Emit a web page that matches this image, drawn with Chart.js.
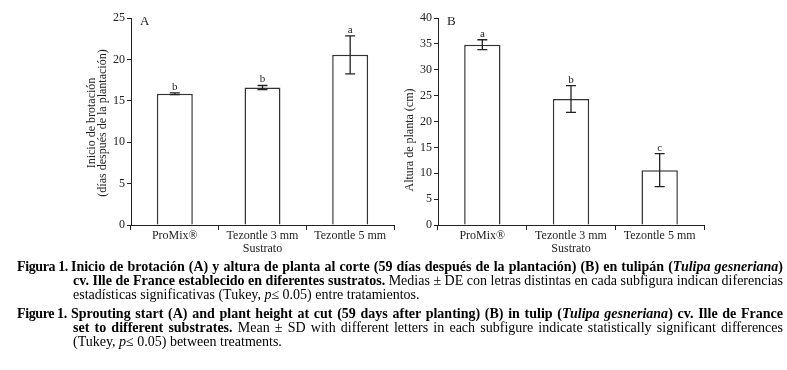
<!DOCTYPE html>
<html>
<head>
<meta charset="utf-8">
<script src="https://cdn.jsdelivr.net/npm/chart.js@4"></script>
<style>
  body { margin: 0; background: #fff; }
  #page { position: relative; width: 787px; height: 370px; overflow: hidden; background: #fff; }
  .panel { position: absolute; top: 0; height: 262px; }
  #panelA { left: 0; width: 400px; }
  #panelB { left: 395px; width: 315px; }
  .cap { position: absolute; left: 17px; top: 260px; width: 766px;
         font-family: "Liberation Serif", "Times New Roman", serif; font-size: 14px;
         line-height: 14px; color: #000; }
  .row { position: relative; height: 14px; }
  .lab { position: absolute; left: 0; top: 0; font-weight: bold; letter-spacing: -0.4px; }
  .txt { margin-left: 56px; width: 710px; text-align: justify; text-align-last: justify; white-space: nowrap; }
  .txt.first { margin-left: 54px; width: 712px; }
  .txt.last { text-align-last: left; }
  .gap { height: 5px; }
</style>
</head>
<body>
<div id="page">
  <div class="panel" id="panelA"><canvas id="chartA"></canvas></div>
  <div class="panel" id="panelB"><canvas id="chartB"></canvas></div>
  <div class="cap">
    <div class="row"><span class="lab">Figura 1.</span><div class="txt first"><b>Inicio de brotación (A) y altura de planta al corte (59 días después de la plantación) (B) en tulipán (<i>Tulipa gesneriana</i>)</b></div></div>
    <div class="row"><div class="txt"><b>cv. Ille de France establecido en diferentes sustratos.</b> Medias ± DE con letras distintas en cada subfigura indican diferencias</div></div>
    <div class="row"><div class="txt last">estadísticas significativas (Tukey, <i>p</i>≤ 0.05) entre tratamientos.</div></div>
    <div class="gap"></div>
    <div class="row"><span class="lab">Figure 1.</span><div class="txt first"><b>Sprouting start (A) and plant height at cut (59 days after planting) (B) in tulip (<i>Tulipa gesneriana</i>) cv. Ille de France</b></div></div>
    <div class="row"><div class="txt"><b>set to different substrates.</b> Mean ± SD with different letters in each subfigure indicate statistically significant differences</div></div>
    <div class="row"><div class="txt last">(Tukey, <i>p</i>≤ 0.05) between treatments.</div></div>
  </div>
</div>

<script>
// Data
const sustratos = ['ProMix®', 'Tezontle 3 mm', 'Tezontle 5 mm'];

// A: inicio de brotación (días después de la plantación)
const brotacionMedia = [15.85, 16.6, 20.55];
const brotacionDE = [0.1, 0.25, 2.3];
const brotacionLetras = ['b', 'b', 'a'];
const brotacionTicks = [0, 5, 10, 15, 20, 25];

// B: altura de planta (cm)
const alturaMedia = [34.85, 24.35, 10.6];
const alturaDE = [0.95, 2.6, 3.2];
const alturaLetras = ['a', 'b', 'c'];
const alturaTicks = [0, 5, 10, 15, 20, 25, 30, 35, 40];

const SERIF = '"Liberation Serif", "Times New Roman", serif';
const INK = '#222';

// error bars, significance letters, panel label and y title
const extrasPlugin = {
  id: 'extras',
  afterDatasetsDraw(chart, args, opts) {
    const ctx = chart.ctx;
    const meta = chart.getDatasetMeta(0);
    const y = chart.scales.y;
    ctx.save();
    ctx.strokeStyle = INK;
    ctx.lineWidth = 1.3;
    ctx.fillStyle = INK;
    ctx.font = '11px ' + SERIF;
    ctx.textAlign = 'center';
    ctx.textBaseline = 'alphabetic';
    meta.data.forEach((bar, i) => {
      const top = y.getPixelForValue(opts.means[i] + opts.sd[i]);
      const bot = y.getPixelForValue(opts.means[i] - opts.sd[i]);
      ctx.beginPath();
      ctx.moveTo(bar.x, top); ctx.lineTo(bar.x, bot);
      ctx.moveTo(bar.x - 5, top); ctx.lineTo(bar.x + 5, top);
      ctx.moveTo(bar.x - 5, bot); ctx.lineTo(bar.x + 5, bot);
      ctx.stroke();
      ctx.fillText(opts.letters[i], bar.x, top - 3);
    });

    // panel label
    ctx.font = '13px ' + SERIF;
    ctx.textAlign = 'left';
    ctx.textBaseline = 'middle';
    ctx.fillText(opts.panel, chart.chartArea.left + 9, chart.chartArea.top + 4);

    // rotated y title
    ctx.font = '12px ' + SERIF;
    ctx.textAlign = 'center';
    opts.title.forEach((line, k) => {
      ctx.save();
      ctx.translate(opts.titleX[k], opts.titleY);
      ctx.rotate(-Math.PI / 2);
      ctx.fillText(line, 0, 0);
      ctx.restore();
    });
    ctx.restore();
  }
};

function makeChart(id, means, sd, letters, ticks, yMax, yWidth, padRight, extras) {
  return new Chart(document.getElementById(id), {
    type: 'bar',
    data: {
      labels: sustratos,
      datasets: [{
        data: means,
        backgroundColor: '#fff',
        borderColor: '#333',
        borderWidth: 1.5,
        barPercentage: 0.41,
        categoryPercentage: 1
      }]
    },
    plugins: [extrasPlugin],
    options: {
      responsive: true,
      maintainAspectRatio: false,
      animation: false,
      events: [],
      layout: { padding: { left: 0, right: padRight, top: 18, bottom: 0 } },
      plugins: {
        legend: { display: false },
        tooltip: { enabled: false },
        extras: Object.assign({ means: means, sd: sd, letters: letters }, extras)
      },
      scales: {
        x: {
          grid: { offset: true, drawOnChartArea: false, tickLength: 5, color: INK },
          border: { color: INK, width: 1 },
          ticks: { color: INK, font: { family: SERIF, size: 12 }, padding: -1, maxRotation: 0 },
          title: { display: true, text: 'Sustrato', color: INK, font: { family: SERIF, size: 12 }, padding: { top: 0, bottom: 6 } },
          afterFit(scale) { scale.height = 37; }
        },
        y: {
          min: 0,
          max: yMax,
          afterBuildTicks(scale) { scale.ticks = ticks.map(v => ({ value: v })); },
          grid: { drawOnChartArea: false, tickLength: 4, color: INK },
          border: { color: INK, width: 1 },
          ticks: { color: INK, font: { family: SERIF, size: 12 }, padding: 2 },
          afterFit(scale) { scale.width = yWidth; }
        }
      }
    }
  });
}

makeChart('chartA', brotacionMedia, brotacionDE, brotacionLetras, brotacionTicks, 25, 131, 6, {
  panel: 'A',
  title: ['Inicio de brotación', '(días después de la plantación)'],
  titleX: [92, 103],
  titleY: 123
});

makeChart('chartB', alturaMedia, alturaDE, alturaLetras, alturaTicks, 40, 43, 6, {
  panel: 'B',
  title: ['Altura de planta (cm)'],
  titleX: [15],
  titleY: 140
});
</script>
</body>
</html>
